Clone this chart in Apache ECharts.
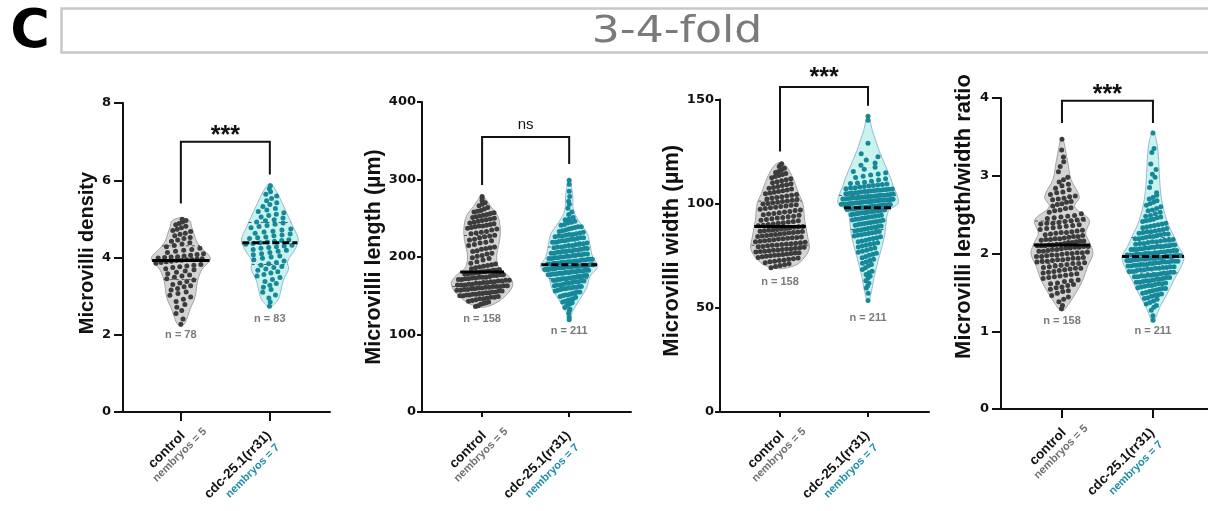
<!DOCTYPE html>
<html><head><meta charset="utf-8">
<script src="https://cdn.jsdelivr.net/npm/echarts@6/dist/echarts.min.js"></script>
<style>html,body{margin:0;padding:0;background:#fff}#c{width:1208px;height:511px}</style>
</head><body><div id="c"></div>
<script>
// ---------------- DATA ----------------
const categories = ['control', 'cdc-25.1(rr31)'];
const embryoLabels = ['nembryos = 5', 'nembryos = 7'];
const axisTitles = ['Microvilli density', 'Microvilli length (µm)', 'Microvilli width (µm)', 'Microvilli length/width ratio'];
const yMaxes = [8, 400, 150, 4];
const yTickSteps = [2, 100, 50, 1];
const nLabels = [['n = 78', 'n = 83'], ['n = 158', 'n = 211'], ['n = 158', 'n = 211'], ['n = 158', 'n = 211']];
const sigLabels = ['***', 'ns', '***', '***'];
const headerLetter = 'C';
const headerTitle = '3-4-fold';

// Microvilli density
const densityControl = [2.27,2.41,2.55,2.63,2.71,2.78,2.86,2.92,2.98,3.02,3.07,3.11,3.16,3.2,3.24,3.27,3.3,3.34,3.38,3.42,3.45,3.49,3.52,3.55,3.58,3.62,3.65,3.68,3.71,3.74,3.76,3.78,3.8,3.82,3.85,3.87,3.89,3.9,3.92,3.93,3.94,3.95,3.96,3.97,3.99,4.0,4.01,4.02,4.04,4.06,4.08,4.1,4.13,4.16,4.19,4.21,4.24,4.28,4.31,4.35,4.38,4.42,4.45,4.49,4.52,4.56,4.6,4.63,4.67,4.7,4.73,4.77,4.81,4.85,4.88,4.92,4.96,4.99];
const densityCdc = [2.74,2.85,2.95,3.03,3.1,3.17,3.23,3.28,3.33,3.38,3.43,3.48,3.52,3.56,3.6,3.63,3.67,3.7,3.74,3.77,3.8,3.84,3.87,3.91,3.94,3.98,4.01,4.04,4.07,4.1,4.13,4.16,4.19,4.21,4.24,4.26,4.28,4.3,4.32,4.34,4.36,4.38,4.4,4.42,4.44,4.46,4.49,4.51,4.53,4.56,4.58,4.61,4.63,4.66,4.68,4.71,4.74,4.77,4.8,4.83,4.86,4.89,4.92,4.95,4.98,5.02,5.05,5.09,5.12,5.16,5.19,5.23,5.27,5.32,5.37,5.42,5.47,5.53,5.59,5.64,5.7,5.78,5.86];
// violin outlines: [value, half-width in category units]
const densityControlViolin = [[2.22,0],[2.3,0.045],[2.5,0.08],[2.7,0.11],[2.9,0.15],[3.1,0.17],[3.3,0.18],[3.5,0.2],[3.7,0.24],[3.85,0.3],[3.95,0.33],[4.05,0.32],[4.2,0.25],[4.4,0.18],[4.6,0.15],[4.8,0.12],[4.95,0.1],[5.03,0]];
const densityCdcViolin = [[2.72,0],[2.9,0.09],[3.1,0.12],[3.4,0.15],[3.7,0.21],[3.9,0.2],[4.2,0.28],[4.45,0.32],[4.8,0.26],[5.2,0.18],[5.6,0.1],[5.8,0.05],[5.92,0]];

// Microvilli length
const lengthControl = [136,137,139,140,141,142,143,144,145,146,146,147,148,148,149,150,150,151,151,152,152,153,153,154,154,155,155,156,156,157,157,158,158,159,159,160,160,161,161,162,162,162,163,163,164,164,164,165,165,166,166,167,167,168,168,169,169,170,170,171,171,172,172,173,173,174,174,174,175,176,176,177,177,178,178,179,179,180,180,181,181,182,182,183,183,184,185,186,187,188,189,190,191,192,194,196,198,199,201,202,204,205,207,208,210,211,212,213,215,216,218,219,221,222,223,225,226,227,228,230,231,232,233,235,236,237,238,239,240,240,241,242,243,244,245,246,247,248,249,250,251,252,253,254,255,256,257,258,259,260,262,264,266,268,270,273,276,278];
const lengthCdc = [119,122,127,131,133,135,137,139,140,141,142,143,144,145,146,148,149,150,151,151,152,153,154,155,155,156,157,158,159,159,160,160,161,161,162,162,163,164,164,165,166,166,167,168,168,169,169,170,170,171,171,172,172,172,173,173,174,174,175,175,175,176,176,177,177,178,178,178,179,179,179,180,180,180,181,181,181,182,182,182,183,183,183,184,184,184,185,185,185,186,186,186,186,187,187,187,187,188,188,188,188,189,189,189,189,190,190,190,191,191,191,192,192,192,193,193,193,194,194,194,195,195,195,196,196,196,197,197,197,198,198,199,199,200,200,201,201,202,202,203,203,204,204,205,205,206,206,207,207,208,208,209,209,210,211,211,212,213,213,214,215,215,216,217,217,218,219,219,220,221,221,222,223,223,224,225,225,226,227,227,228,229,229,230,231,232,233,234,235,236,237,238,239,239,241,242,244,245,246,248,249,251,255,258,263,268,272,278,285,294,299];
const lengthControlViolin = [[135,0],[140,0.15],[150,0.27],[160,0.34],[168,0.35],[178,0.28],[185,0.2],[195,0.17],[205,0.17],[215,0.19],[230,0.21],[245,0.2],[255,0.17],[265,0.1],[272,0.06],[279,0]];
const lengthCdcViolin = [[117,0],[130,0.04],[145,0.12],[160,0.2],[175,0.24],[188,0.33],[200,0.27],[215,0.24],[230,0.21],[245,0.12],[260,0.05],[280,0.04],[301,0]];

// Microvilli width
const widthControl = [69.2,69.8,70.3,70.7,71.2,71.7,72.1,72.4,72.7,73.0,73.3,73.6,73.9,74.2,74.5,74.8,75.0,75.2,75.4,75.6,75.9,76.1,76.3,76.5,76.8,77.0,77.2,77.4,77.6,77.8,78.0,78.2,78.4,78.6,78.9,79.1,79.3,79.5,79.8,80.0,80.2,80.4,80.6,80.8,81.0,81.2,81.5,81.7,82.0,82.2,82.5,82.7,83.0,83.2,83.4,83.6,83.8,84.0,84.2,84.5,84.7,85.0,85.2,85.5,85.7,86.0,86.2,86.4,86.6,86.8,87.0,87.2,87.4,87.6,87.9,88.1,88.4,88.7,88.9,89.1,89.4,89.7,90.0,90.3,90.6,90.9,91.2,91.5,91.8,92.1,92.4,92.8,93.1,93.4,93.7,94.0,94.4,94.7,95.0,95.3,95.7,96.0,96.3,96.7,97.0,97.3,97.7,98.0,98.3,98.6,98.9,99.2,99.5,99.8,100.1,100.4,100.7,101.0,101.3,101.7,102.0,102.3,102.7,103.0,103.3,103.7,104.0,104.4,104.8,105.1,105.5,105.9,106.2,106.6,107.0,107.4,107.8,108.3,108.7,109.1,109.6,110.0,110.5,111.0,111.5,112.0,112.5,113.0,113.5,114.0,114.5,115.0,115.5,116.2,117.0,117.8,118.5,119.2];
const widthCdc = [53.5,57.0,59.5,60.5,61.8,63.0,64.3,65.2,66.0,66.8,67.6,68.4,69.3,70.2,70.8,71.4,72.0,72.7,73.3,74.0,74.6,75.2,75.7,76.2,76.7,77.2,77.7,78.2,78.7,79.2,79.7,80.1,80.5,80.9,81.3,81.7,82.1,82.5,82.9,83.3,83.7,84.1,84.5,84.9,85.1,85.4,85.7,86.0,86.3,86.6,86.9,87.2,87.5,87.8,88.1,88.4,88.7,89.0,89.3,89.7,90.0,90.2,90.5,90.7,91.0,91.2,91.5,91.7,92.0,92.2,92.5,92.7,93.0,93.2,93.5,93.7,94.0,94.2,94.5,94.7,95.0,95.1,95.2,95.4,95.5,95.6,95.7,95.8,96.0,96.1,96.2,96.4,96.5,96.6,96.7,96.8,97.0,97.1,97.2,97.4,97.5,97.6,97.7,97.8,97.9,98.0,98.1,98.2,98.3,98.4,98.5,98.6,98.7,98.8,98.9,99.0,99.1,99.2,99.3,99.4,99.5,99.6,99.7,99.8,99.9,100.0,100.1,100.2,100.4,100.5,100.6,100.8,100.9,101.0,101.1,101.2,101.4,101.5,101.6,101.7,101.8,101.9,102.0,102.1,102.2,102.4,102.5,102.6,102.8,102.9,103.0,103.1,103.3,103.4,103.5,103.6,103.8,103.9,104.0,104.1,104.3,104.4,104.6,104.8,104.9,105.1,105.3,105.4,105.6,105.8,105.9,106.1,106.2,106.4,106.5,106.7,106.8,106.9,107.0,107.2,107.5,107.7,108.0,108.2,108.5,108.7,109.0,109.2,109.5,109.7,109.9,110.3,110.8,111.4,112.0,112.6,113.2,113.8,114.3,114.8,115.5,116.5,117.5,118.5,119.5,121.0,122.5,124.0,129.0,140.0,142.0];
const widthControlViolin = [[68.8,0],[70,0.15],[72,0.23],[78,0.33],[85,0.31],[92,0.28],[100,0.26],[105,0.21],[112,0.15],[118,0.07],[119.8,0]];
const widthCdcViolin = [[52.8,0],[58,0.04],[65,0.07],[75,0.13],[85,0.19],[93,0.21],[97,0.24],[100,0.34],[104,0.33],[108,0.29],[112,0.26],[119,0.19],[125,0.13],[130,0.09],[135,0.05],[142.6,0]];

// Microvilli length/width ratio
const ratioControl = [1.29,1.33,1.38,1.41,1.44,1.46,1.49,1.51,1.52,1.54,1.56,1.57,1.59,1.6,1.61,1.62,1.64,1.65,1.66,1.68,1.69,1.7,1.71,1.72,1.73,1.74,1.75,1.76,1.77,1.78,1.79,1.8,1.81,1.81,1.82,1.83,1.84,1.85,1.86,1.87,1.87,1.88,1.89,1.9,1.9,1.91,1.92,1.92,1.93,1.94,1.94,1.95,1.96,1.96,1.97,1.98,1.98,1.99,2.0,2.0,2.01,2.01,2.02,2.03,2.03,2.04,2.05,2.05,2.06,2.07,2.07,2.08,2.08,2.09,2.09,2.1,2.1,2.1,2.11,2.11,2.12,2.12,2.13,2.14,2.14,2.15,2.16,2.16,2.17,2.18,2.18,2.19,2.19,2.2,2.21,2.22,2.22,2.23,2.24,2.25,2.26,2.27,2.27,2.28,2.29,2.3,2.31,2.32,2.33,2.34,2.35,2.36,2.37,2.38,2.39,2.39,2.4,2.41,2.42,2.43,2.44,2.45,2.46,2.47,2.48,2.49,2.51,2.53,2.55,2.56,2.58,2.59,2.61,2.63,2.64,2.66,2.67,2.69,2.7,2.71,2.73,2.74,2.76,2.78,2.79,2.82,2.84,2.87,2.89,2.92,2.95,2.98,3.05,3.12,3.18,3.24,3.33,3.47];
const ratioCdc = [1.14,1.2,1.27,1.31,1.33,1.35,1.37,1.39,1.41,1.42,1.43,1.45,1.46,1.47,1.48,1.49,1.5,1.51,1.52,1.53,1.54,1.55,1.55,1.56,1.57,1.58,1.59,1.59,1.6,1.61,1.61,1.62,1.63,1.63,1.64,1.65,1.65,1.66,1.67,1.67,1.68,1.69,1.69,1.7,1.7,1.71,1.71,1.72,1.72,1.73,1.73,1.74,1.75,1.75,1.76,1.76,1.77,1.77,1.78,1.79,1.79,1.8,1.8,1.81,1.81,1.82,1.82,1.83,1.83,1.84,1.84,1.85,1.85,1.86,1.86,1.86,1.87,1.87,1.88,1.88,1.89,1.89,1.89,1.9,1.9,1.9,1.91,1.91,1.91,1.92,1.92,1.92,1.93,1.93,1.93,1.93,1.94,1.94,1.94,1.94,1.95,1.95,1.95,1.95,1.96,1.96,1.96,1.96,1.97,1.97,1.97,1.97,1.98,1.98,1.98,1.99,1.99,1.99,2.0,2.0,2.0,2.01,2.01,2.02,2.02,2.03,2.03,2.04,2.04,2.05,2.05,2.05,2.06,2.06,2.07,2.07,2.08,2.08,2.09,2.09,2.09,2.1,2.1,2.11,2.11,2.12,2.13,2.13,2.14,2.15,2.15,2.16,2.17,2.17,2.18,2.19,2.19,2.2,2.21,2.22,2.22,2.23,2.24,2.25,2.25,2.26,2.27,2.28,2.28,2.29,2.3,2.31,2.32,2.33,2.34,2.35,2.36,2.37,2.38,2.39,2.41,2.42,2.43,2.44,2.46,2.47,2.48,2.49,2.51,2.53,2.55,2.56,2.58,2.6,2.62,2.64,2.66,2.68,2.7,2.72,2.75,2.78,2.85,2.92,2.98,3.02,3.08,3.15,3.3,3.35,3.55];
const ratioControlViolin = [[1.26,0],[1.36,0.08],[1.49,0.15],[1.66,0.23],[1.83,0.28],[2.0,0.34],[2.15,0.3],[2.26,0.26],[2.43,0.3],[2.6,0.14],[2.73,0.19],[2.95,0.1],[3.2,0.06],[3.49,0]];
const ratioCdcViolin = [[1.13,0],[1.32,0.08],[1.49,0.16],[1.66,0.23],[1.83,0.31],[1.96,0.34],[2.09,0.28],[2.22,0.23],[2.43,0.15],[2.73,0.09],[3.03,0.07],[3.37,0.05],[3.58,0]];

const groupValues = [[densityControl, densityCdc], [lengthControl, lengthCdc], [widthControl, widthCdc], [ratioControl, ratioCdc]];
const groupViolins = [[densityControlViolin, densityCdcViolin], [lengthControlViolin, lengthCdcViolin], [widthControlViolin, widthCdcViolin], [ratioControlViolin, ratioCdcViolin]];

// ---------------- LAYOUT / STYLE ----------------
const FONT = '"Liberation Sans", Arial, sans-serif';
const TICKFONT = '"DejaVu Sans", sans-serif';
const layout = [
  {left: 123, top: 103, width: 207, height: 309, xMin: 0.35, xMax: 2.676, nameSize: 20, nameGap: 26, namePad: 9, tickLen: 9, labelMargin: 12, bracket: [5.4, 7.0, 6.15], sigY: 7.3, nY: [2.0, 2.41]},
  {left: 422, top: 102, width: 209, height: 310, xMin: 0.31, xMax: 2.71, nameSize: 21.5, nameGap: 33, namePad: 0, tickLen: 5, labelMargin: 6, bracket: [293, 355, 320], sigY: 370, nY: [120, 105]},
  {left: 720, top: 99.5, width: 209, height: 312.5, xMin: 0.318, xMax: 2.693, nameSize: 22, nameGap: 30, namePad: 10, tickLen: 5, labelMargin: 6, bracket: [125, 156, 147], sigY: 163, nY: [62.5, 45]},
  {left: 1001, top: 98, width: 207, height: 311, xMin: 0.33, xMax: 2.605, nameSize: 22, nameGap: 26, namePad: 74, tickLen: 9, labelMargin: 12, bracket: [3.68, 3.965, 3.68], sigY: 4.12, nY: [1.135, 1.007]}
];
// pixel offsets (from the tick foot on the axis line) of the centres of the rotated category labels
const nameOffsets = [[-14, 38], [-32, 53]];
const embryoOffsets = [[-1, 43], [-17, 59]];
const fillColors = ['#d4d4d4', '#c9f4ee'];
const strokeColors = ['#a3a3a3', '#9cb6d6'];
const dotColors = ['#3c3c3c', '#17889a'];
const embryoColors = ['#707070', '#1a8ea6'];

function halfWidth(prof, y) {
  if (y <= prof[0][0] || y >= prof[prof.length - 1][0]) return 0;
  for (let i = 1; i < prof.length; i++) {
    if (y <= prof[i][0]) {
      const [y0, w0] = prof[i - 1], [y1, w1] = prof[i];
      return w0 + (w1 - w0) * (y - y0) / (y1 - y0);
    }
  }
  return 0;
}
function quantile(arr, q) {
  const s = arr.slice().sort((a, b) => a - b);
  const pos = (s.length - 1) * q, lo = Math.floor(pos), hi = Math.ceil(pos);
  return s[lo] + (s[hi] - s[lo]) * (pos - lo);
}
// deterministic band spreading of dots inside the violin
function spreadDots(values, xc, prof, pxPerY, pxPerX) {
  const s = values.slice().sort((a, b) => a - b);
  const bandH = 5 / pxPerY, r = 2.6 / pxPerX;
  const phases = [0, 0.35, -0.35];
  const out = [];
  let i = 0, band = 0;
  while (i < s.length) {
    let j = i;
    while (j < s.length && s[j] < s[i] + bandH) j++;
    const k = j - i;
    const yc = (s[i] + s[j - 1]) / 2;
    const w = Math.max(halfWidth(prof, yc) - r, 0);
    const ph = phases[band % 3];
    for (let m = 0; m < k; m++) {
      const off = -w + 2 * w * ((m + 0.5 + ph) / k);
      out.push([xc + off, s[i + m]]);
    }
    i = j; band++;
  }
  return out;
}

const chart = echarts.init(document.getElementById('c'), null, {renderer: 'canvas'});
const option = {
  animation: false,
  backgroundColor: '#fff',
  textStyle: {fontFamily: FONT},
  grid: [], xAxis: [], yAxis: [], series: [],
  graphic: [
    {type: 'rect', shape: {x: 61.5, y: 8.5, width: 1160, height: 44}, style: {fill: 'none', stroke: '#c8c8c8', lineWidth: 2.5}},
    {type: 'text', x: 677, y: 32, scaleX: 1.16, style: {text: headerTitle, fontFamily: '"DejaVu Sans", sans-serif', fontSize: 38, fill: '#7a7a7a', align: 'center', verticalAlign: 'middle'}},
    {type: 'text', x: 30, y: 33, style: {text: headerLetter, fontFamily: '"DejaVu Sans", sans-serif', fontWeight: 'bold', fontSize: 54, fill: '#000', align: 'center', verticalAlign: 'middle'}}
  ]
};

layout.forEach((L, p) => {
  option.grid.push({left: L.left, top: L.top, width: L.width, height: L.height, containLabel: false});
  option.xAxis.push({
    type: 'value', gridIndex: p, min: L.xMin, max: L.xMax,
    axisLine: {show: true, onZero: false, lineStyle: {color: '#111', width: 2}},
    axisTick: {show: true, customValues: [1, 2], length: L.tickLen, lineStyle: {color: '#111', width: 2}},
    axisLabel: {show: false},
    splitLine: {show: false}
  });
  option.yAxis.push({
    type: 'value', gridIndex: p, min: 0, max: yMaxes[p], interval: yTickSteps[p],
    name: axisTitles[p], nameLocation: 'middle', nameGap: L.nameGap,
    nameTextStyle: {fontFamily: FONT, fontWeight: 'bold', fontSize: L.nameSize, color: '#111', padding: [0, 0, 0, L.namePad]},
    axisLine: {show: true, lineStyle: {color: '#111', width: 2}},
    axisTick: {show: true, length: L.tickLen, lineStyle: {color: '#111', width: 2}},
    axisLabel: {fontFamily: TICKFONT, fontWeight: 'bold', fontSize: 13, color: '#111', margin: L.labelMargin},
    splitLine: {show: false}
  });

  const pxPerY = L.height / yMaxes[p];
  const pxPerX = L.width / (L.xMax - L.xMin);
  const vio = groupViolins[p];
  const vals = groupValues[p];

  // violins
  option.series.push({
    type: 'custom', xAxisIndex: p, yAxisIndex: p, z: 1, silent: true,
    data: [[1, 0], [2, 0]],
    renderItem: (params, api) => {
      const g = params.dataIndex, xc = g + 1, prof = vio[g];
      const pts = [];
      prof.forEach(q => pts.push(api.coord([xc + q[1], q[0]])));
      for (let j = prof.length - 2; j >= 1; j--) pts.push(api.coord([xc - prof[j][1], prof[j][0]]));
      return {type: 'polygon', shape: {points: pts, smooth: 0.35}, style: {fill: fillColors[g], stroke: strokeColors[g], lineWidth: 1}};
    }
  });
  // quartile lines (under dots)
  option.series.push({
    type: 'custom', xAxisIndex: p, yAxisIndex: p, z: 2, silent: true,
    data: [[1, 0], [2, 0]],
    renderItem: (params, api) => {
      const g = params.dataIndex, xc = g + 1;
      const children = [0.25, 0.75].map(q => {
        const y = quantile(vals[g], q), w = halfWidth(vio[g], y);
        const a = api.coord([xc - w, y]), b = api.coord([xc + w, y]);
        return {type: 'line', shape: {x1: a[0], y1: a[1], x2: b[0], y2: b[1]}, style: {stroke: '#555', lineWidth: 1, lineDash: [3, 3]}};
      });
      return {type: 'group', children};
    }
  });
  // dots
  [0, 1].forEach(g => {
    option.series.push({
      type: 'scatter', xAxisIndex: p, yAxisIndex: p, z: 3, silent: true,
      symbol: 'circle', symbolSize: 5,
      itemStyle: {color: dotColors[g], opacity: 1},
      data: spreadDots(vals[g], g + 1, vio[g], pxPerY, pxPerX)
    });
  });
  // medians (over dots)
  option.series.push({
    type: 'custom', xAxisIndex: p, yAxisIndex: p, z: 4, silent: true,
    data: [[1, 0], [2, 0]],
    renderItem: (params, api) => {
      const g = params.dataIndex, xc = g + 1;
      const y = quantile(vals[g], 0.5), w = halfWidth(vio[g], y);
      const a = api.coord([xc - w, y]), b = api.coord([xc + w, y]);
      return {type: 'line', shape: {x1: a[0], y1: a[1], x2: b[0], y2: b[1]},
        style: {stroke: '#000', lineWidth: 3, lineDash: g === 0 ? null : [7, 3]}};
    }
  });
  // bracket + significance + n labels + category labels
  option.series.push({
    type: 'custom', xAxisIndex: p, yAxisIndex: p, z: 5, silent: true, clip: false,
    data: [[1, 0]],
    renderItem: (params, api) => {
      const br = L.bracket;
      const pts = [api.coord([1, br[0]]), api.coord([1, br[1]]), api.coord([2, br[1]]), api.coord([2, br[2]])];
      const sig = api.coord([1.5, L.sigY]);
      const isNs = sigLabels[p] === 'ns';
      const children = [
        {type: 'polyline', shape: {points: pts}, style: {stroke: '#111', lineWidth: 2, fill: null}},
        {type: 'text', x: sig[0], y: sig[1] + (isNs ? 0 : 6), style: {text: sigLabels[p], fontFamily: FONT, fontWeight: isNs ? 'normal' : 'bold', fontSize: isNs ? 15 : 25, fill: '#111', align: 'center', verticalAlign: 'middle'}}
      ];
      [0, 1].forEach(g => {
        const c = api.coord([g + 1, L.nY[g]]);
        children.push({type: 'text', x: c[0], y: c[1], style: {text: nLabels[p][g], fontFamily: FONT, fontWeight: 'bold', fontSize: 11, fill: '#7a7a7a', align: 'center', verticalAlign: 'middle'}});
        const t = api.coord([g + 1, 0]);
        children.push({type: 'text', x: t[0] + nameOffsets[g][0], y: t[1] + nameOffsets[g][1], rotation: Math.PI / 4,
          style: {text: categories[g], fontFamily: FONT, fontWeight: 'bold', fontSize: 13.5, fill: '#111', align: 'center', verticalAlign: 'middle'}});
        children.push({type: 'text', x: t[0] + embryoOffsets[g][0], y: t[1] + embryoOffsets[g][1], rotation: Math.PI / 4,
          style: {text: embryoLabels[g], fontFamily: FONT, fontWeight: 'bold', fontSize: 11, fill: embryoColors[g], align: 'center', verticalAlign: 'middle'}});
      });
      return {type: 'group', children};
    }
  });
});

chart.setOption(option);
</script>
</body></html>
